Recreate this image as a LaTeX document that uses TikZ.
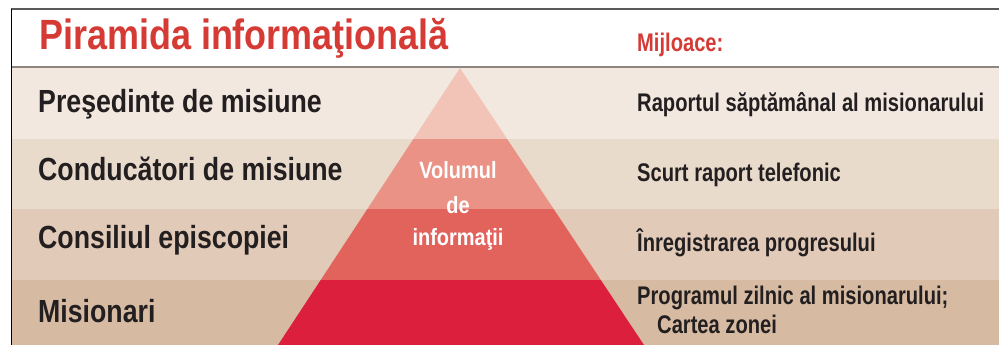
\documentclass[tikz,border=0pt]{standalone}
\usepackage{fontspec}
\setmainfont{Liberation Sans}[FakeStretch=0.8]
\newfontfamily\titlefont{Liberation Sans}[FakeStretch=0.85]
\newfontfamily\leftfont{Liberation Sans}[FakeStretch=0.835]
\newfontfamily\rightfont{Liberation Sans}[FakeStretch=0.79]
\newfontfamily\pyrfont{Liberation Sans}[FakeStretch=0.85]
\definecolor{bandA}{HTML}{F2E8DF}
\definecolor{bandB}{HTML}{E9DBCC}
\definecolor{bandC}{HTML}{E1CAB7}
\definecolor{bandD}{HTML}{D6BBA2}
\definecolor{pyrA}{HTML}{F2C4B8}
\definecolor{pyrB}{HTML}{EA9285}
\definecolor{pyrC}{HTML}{E2635C}
\definecolor{pyrD}{HTML}{DC1F3C}
\definecolor{titred}{HTML}{D63A35}
\definecolor{ink}{HTML}{231F20}
\definecolor{rule}{HTML}{8D8580}
\tikzset{
  leftlabel/.style={anchor=base west, inner sep=0pt, font=\leftfont\bfseries\fontsize{32}{34}\selectfont, text=ink},
  rightlabel/.style={anchor=base west, inner sep=0pt, font=\rightfont\bfseries\fontsize{25.5}{28}\selectfont, text=ink},
  pyrtext/.style={anchor=base, inner sep=0pt, text=white, font=\pyrfont\bfseries\fontsize{23.5}{26}\selectfont},
}
\begin{document}
\begin{tikzpicture}[x=1pt,y=-1pt]
\useasboundingbox (0,0) rectangle (999,345);
% bands
\fill[white] (11,9) rectangle (999,67);
\fill[bandA] (11,67) rectangle (999,139);
\fill[bandB] (11,139) rectangle (999,209);
\fill[bandC] (11,209) rectangle (999,280);
\fill[bandD] (11,280) rectangle (999,345);
% pyramid
\begin{scope}
\clip (460,68) -- (644,345) -- (278,345) -- cycle;
\fill[pyrA] (200,60) rectangle (700,139);
\fill[pyrB] (200,139) rectangle (700,209);
\fill[pyrC] (200,209) rectangle (700,280);
\fill[pyrD] (200,280) rectangle (700,346);
\end{scope}
% rules
\draw[rule, line width=1.3pt] (11,67) -- (999,67);
\draw[black!65, line width=1.3pt] (11,9) -- (999,9);
\draw[black, line width=1.2pt] (11.5,9) -- (11.5,345);
% texts
\node[anchor=base west, inner sep=0pt, font=\titlefont\bfseries\fontsize{42.3}{44}\selectfont, text=titred] (title) at (39,49.3) {Piramida informaţională};
\node[anchor=base west, inner sep=0pt, font=\rightfont\bfseries\fontsize{25.5}{28}\selectfont, text=titred] (mij) at (637,51.7) {Mijloace:};
\node[leftlabel] (l1) at (38,112) {Preşedinte de misiune};
\node[leftlabel] (l2) at (38,180) {Conducători de misiune};
\node[leftlabel] (l3) at (38,248.3) {Consiliul episcopiei};
\node[leftlabel] (l4) at (38,322.5) {Misionari};
\node[rightlabel] (r1) at (637,111.7) {Raportul săptămânal al misionarului};
\node[rightlabel] (r2) at (637,181) {Scurt raport telefonic};
\node[rightlabel] (r3) at (637,251) {Înregistrarea progresului};
\node[rightlabel] (r4) at (637,304) {Programul zilnic al misionarului;};
\node[rightlabel] (r5) at (657,333) {Cartea zonei};
\node[pyrtext] (v1) at (458,178.3) {Volumul};
\node[pyrtext] (v2) at (458,213.3) {de};
\node[pyrtext] (v3) at (458,245.5) {informaţii};
\end{tikzpicture}
\end{document}
